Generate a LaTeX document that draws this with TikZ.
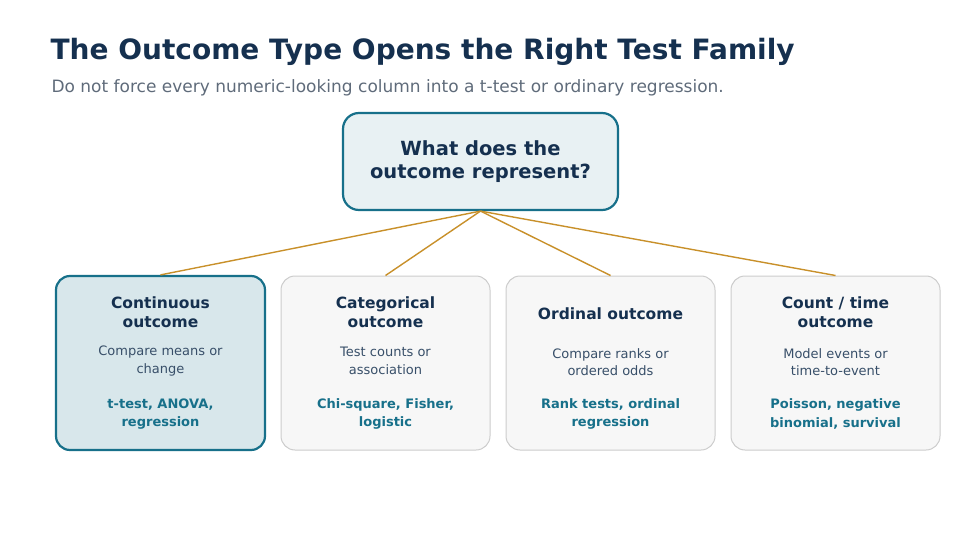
\documentclass[tikz,border=0pt]{standalone}
\usepackage{fontspec}
\setmainfont{DejaVu Sans}
\definecolor{navy}{HTML}{15304F}
\definecolor{teal}{HTML}{17708A}
\definecolor{subgray}{HTML}{5F6B7A}
\definecolor{linkgold}{HTML}{C8902A}
\begin{document}
\begin{tikzpicture}[x=1pt,y=1pt,
    box/.style={draw=#1, rounded corners=14pt, minimum width=209pt, minimum height=174pt, inner sep=0pt},
    head/.style={font=\bfseries\fontsize{15.5}{19}\selectfont, text=navy, align=center},
    desc/.style={font=\fontsize{13}{17.5}\selectfont, text=navy!85, align=center},
    tests/.style={font=\bfseries\fontsize{13}{18.5}\selectfont, text=teal, align=center},
    link/.style={draw=linkgold, line width=1.4pt}]
  \useasboundingbox (0,0) rectangle (960,-540);
  % Title
  \node[anchor=base west, font=\bfseries\fontsize{28}{32}\selectfont, text=navy] (title) at (47,-60) {The Outcome Type Opens the Right Test Family};
  \node[anchor=base west, font=\fontsize{17}{20}\selectfont, text=subgray] (sub) at (48,-93) {Do not force every numeric-looking column into a t-test or ordinary regression.};
  % Question
  \node[box=teal, line width=2.2pt, fill=teal!10, minimum width=275pt, minimum height=97pt, rounded corners=16pt] (question) at (480.5,-161.5) {};
  \node[font=\bfseries\fontsize{19.5}{23}\selectfont, text=navy, align=center] at (question) {What does the\\outcome represent?};
  % Boxes
  \node[box=teal, line width=2.2pt, fill=teal!17] (cont) at (160.5,-363) {};
  \node[box=gray!40, line width=1pt, fill=gray!6] (cat) at (385.5,-363) {};
  \node[box=gray!40, line width=1pt, fill=gray!6] (ord) at (610.5,-363) {};
  \node[box=gray!40, line width=1pt, fill=gray!6] (count) at (835.5,-363) {};
  % Connectors
  \foreach \b in {cont,cat,ord,count}
    \draw[link] (question.south) -- (\b.north);
  % Texts
  \node[head] at (160.5,-312) {Continuous\\outcome};
  \node[desc] at (160.5,-361) {Compare means or\\change};
  \node[tests] at (160.5,-414) {t-test, ANOVA,\\regression};
  \node[head] at (385.5,-312) {Categorical\\outcome};
  \node[desc] at (385.5,-361) {Test counts or\\association};
  \node[tests] at (385.5,-414) {Chi-square, Fisher,\\logistic};
  \node[head] at (610.5,-314) {Ordinal outcome};
  \node[desc] at (610.5,-362) {Compare ranks or\\ordered odds};
  \node[tests] at (610.5,-414) {Rank tests, ordinal\\regression};
  \node[head] at (835.5,-312) {Count / time\\outcome};
  \node[desc] at (835.5,-362) {Model events or\\time-to-event};
  \node[tests] at (835.5,-414) {Poisson, negative\\binomial, survival};
\end{tikzpicture}
\end{document}
